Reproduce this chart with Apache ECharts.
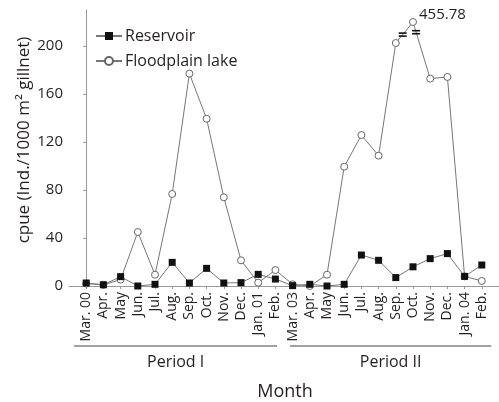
<!DOCTYPE html>
<html><head><meta charset="utf-8">
<script src="https://cdn.jsdelivr.net/npm/echarts@6/dist/echarts.min.js"></script>
<style>html,body{margin:0;padding:0;background:#fff}#c{width:499px;height:402px}</style>
</head><body><div id="c"></div>
<script>
const months = ['Mar. 00','Apr.','May','Jun.','Jul.','Aug.','Sep.','Oct.','Nov.','Dec.','Jan. 01','Feb.','Mar. 03','Apr.','May','Jun.','Jul.','Aug.','Sep.','Oct.','Nov.','Dec.','Jan. 04','Feb.'];
const reservoir = [2.5,1,7.8,0,1.4,19.7,2.5,14.7,2.5,2.8,9.7,5.8,0.3,1.4,0,1.4,25.8,21.4,7,16,22.8,27,8,17.5];
const floodplain = [2,1,5.3,45,9.4,76.7,177,139.4,73.9,21.4,2.8,13.3,1.4,0,9.4,99.4,125.8,108.6,202.5,220,172.8,174.2,8,4.2];
const yTicks = [0,40,80,120,160,200];
const periods = ['Period I','Period II'];
const brokenIndex = 19;
const brokenLabel = '455.78';
const seriesNames = ['Reservoir','Floodplain lake'];
const yTitle = 'cpue (Ind./1000 m\u00B2 gillnet)';
const xTitle = 'Month';

const FONT = 'Open Sans';
const TXT = '#231f20';
const chart = echarts.init(document.getElementById('c'));
const idx = months.map((_, i) => i);

const floodData = floodplain.map((v, i) => {
  if (i === brokenIndex) {
    return {value: [i, v], label: {show: true, formatter: brokenLabel, position: 'right', distance: 2, offset: [0, -7],
      fontFamily: FONT, fontSize: 15, color: TXT}};
  }
  return [i, v];
});

chart.setOption({
  animation: false,
  grid: {left: 69, right: 0, top: 10, bottom: 116},
  legend: {
    orient: 'vertical', left: 90, top: 23, itemGap: 9, itemWidth: 26, itemHeight: 10,
    textStyle: {fontFamily: FONT, fontSize: 16, color: TXT, padding: [0, 0, 0, -2]},
    data: seriesNames
  },
  xAxis: {
    type: 'value', min: -1, max: 24,
    splitLine: {show: false},
    axisLine: {lineStyle: {color: '#999', width: 1}},
    axisTick: {customValues: idx, length: 3, lineStyle: {color: '#999'}},
    axisLabel: {customValues: idx, rotate: 90, margin: 6, fontFamily: FONT, fontSize: 14, color: TXT,
      formatter: v => months[v]}
  },
  yAxis: {
    type: 'value', min: 0, max: 230,
    splitLine: {show: false},
    axisLine: {show: true, lineStyle: {color: '#999', width: 1}},
    axisTick: {show: true, customValues: yTicks, length: 3, lineStyle: {color: '#999'}},
    axisLabel: {customValues: yTicks, margin: 6, fontFamily: FONT, fontSize: 15, color: TXT}
  },
  series: [
    {
      name: seriesNames[1], type: 'line', z: 2,
      data: floodData,
      symbol: 'circle', symbolSize: 7,
      lineStyle: {color: '#777', width: 1},
      itemStyle: {color: '#fff', borderColor: '#666', borderWidth: 1}
    },
    {
      name: seriesNames[0], type: 'line', z: 3,
      data: reservoir.map((v, i) => [i, v]),
      symbol: 'rect', symbolSize: 7,
      lineStyle: {color: '#777', width: 1},
      itemStyle: {color: '#111', borderColor: '#111', borderWidth: 0}
    }
  ]
});

function px(x, y) { return chart.convertToPixel({gridIndex: 0}, [x, y]); }
const p1a = px(-0.7, 0), p1b = px(11.1, 0), p2a = px(11.85, 0), p2b = px(23.55, 0);
const lineY = 346, textY = 362;
const brk1 = px(brokenIndex - 0.6, (floodplain[brokenIndex - 1] * 0.6 + floodplain[brokenIndex] * 0.4));
const brk2 = px(brokenIndex + 0.18, (floodplain[brokenIndex] * 0.82 + floodplain[brokenIndex + 1] * 0.18));
function brk(p) {
  return [
    {type: 'line', shape: {x1: p[0] - 4, y1: p[1] - 1.5, x2: p[0] + 4, y2: p[1] - 1.5}, style: {stroke: '#111', lineWidth: 1.6}, z: 20},
    {type: 'line', shape: {x1: p[0] - 4, y1: p[1] + 1.5, x2: p[0] + 4, y2: p[1] + 1.5}, style: {stroke: '#111', lineWidth: 1.6}, z: 20}
  ];
}
function txt(text, x, y, size, rot) {
  return {type: 'text', x: x, y: y, rotation: rot || 0,
    style: {text: text, fontFamily: FONT, fontSize: size, fill: TXT, textAlign: 'center', textVerticalAlign: 'middle'}};
}
chart.setOption({
  graphic: [
    {type: 'line', shape: {x1: p1a[0], y1: lineY, x2: p1b[0], y2: lineY}, style: {stroke: '#444', lineWidth: 1.2}},
    {type: 'line', shape: {x1: p2a[0], y1: lineY, x2: p2b[0], y2: lineY}, style: {stroke: '#444', lineWidth: 1.2}},
    txt(periods[0], (p1a[0] + p1b[0]) / 2, textY, 16),
    txt(periods[1], (p2a[0] + p2b[0]) / 2, textY, 16),
    txt(xTitle, 285, 392, 18),
    txt(yTitle, 24, 140, 17, Math.PI / 2),
    ...brk(brk1), ...brk(brk2)
  ]
});
</script></body></html>
